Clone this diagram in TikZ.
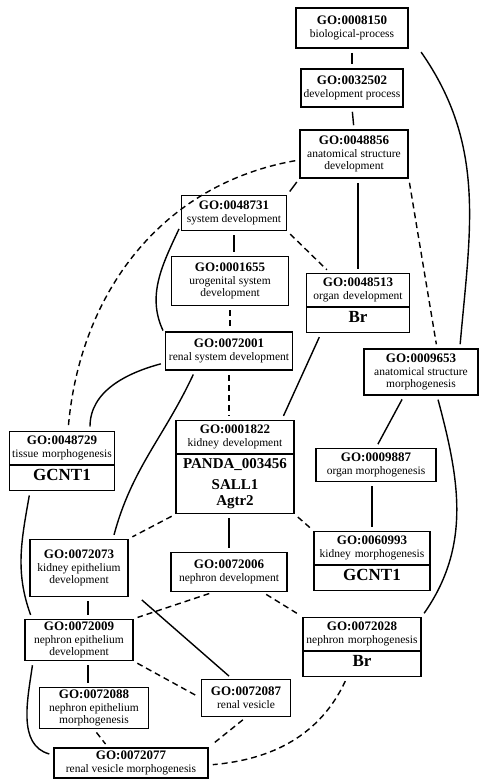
\documentclass[tikz,border=0pt]{standalone}
\usepackage{fontspec}
\setmainfont{Liberation Serif}
\usepackage{tikz}
\usetikzlibrary{shapes}
\usetikzlibrary{calc}

\newcommand{\goid}[1]{{\fontsize{13}{13}\selectfont\bfseries #1}}
\newcommand{\gene}[1]{{\fontsize{17}{18}\selectfont\bfseries\rule[-5pt]{0pt}{15pt}#1}}

\begin{document}
\begin{tikzpicture}[x=1pt,y=1pt,
  go/.style={draw,line width=1.6pt,align=center,inner sep=2pt,
    font=\fontsize{11.5}{12.8}\selectfont},
  gosplit/.style={go,inner ysep=4pt,rectangle split,rectangle split parts=2},
  link/.style={line width=1.4pt,shorten <=4pt,shorten >=4pt},
  dlink/.style={link,dash pattern=on 6pt off 4pt}]
  \useasboundingbox (0,0) rectangle (480,-781);

  % GO terms
  \node[go,minimum width=112,minimum height=40] (n8150) at (352,-28) {\goid{GO:0008150}\\biological-process};
  \node[go,minimum width=102,minimum height=38] (n32502) at (352,-88) {\goid{GO:0032502}\\development process};
  \node[go,minimum width=108,minimum height=48] (n48856) at (354,-154) {\goid{GO:0048856}\\anatomical structure\\development};
  \node[go,minimum width=105,minimum height=35] (n48731) at (234,-213) {\goid{GO:0048731}\\system development};
  \node[go,minimum width=117,minimum height=49] (n1655) at (230,-281) {\goid{GO:0001655}\\urogenital system\\development};
  \node[gosplit,text width=99] (n48513) at (358,-303) {\goid{GO:0048513}\\organ development\nodepart{two}\gene{Br}};
  \node[go,minimum width=127,minimum height=38] (n72001) at (229,-351) {\goid{GO:0072001}\\renal system development};
  \node[go,minimum width=114,minimum height=46] (n9653) at (421,-372) {\goid{GO:0009653}\\anatomical structure\\morphogenesis};
  \node[gosplit,text width=101] (n48729) at (62,-461) {\goid{GO:0048729}\\tissue morphogenesis\nodepart{two}\gene{GCNT1}};
  \node[gosplit,text width=114] (n1822) at (235,-467) {\goid{GO:0001822}\\kidney development\nodepart{two}\fontsize{15}{18}\selectfont\bfseries PANDA\_003456\\[3pt]SALL1\\[3pt]Agtr2};
  \node[go,minimum width=120,minimum height=33] (n9887) at (376,-465) {\goid{GO:0009887}\\organ morphogenesis};
  \node[gosplit,text width=112] (n60993) at (372,-561) {\goid{GO:0060993}\\kidney morphogenesis\nodepart{two}\gene{GCNT1}};
  \node[go,minimum width=98,minimum height=57] (n72073) at (79,-568) {\goid{GO:0072073}\\kidney epithelium\\development};
  \node[go,minimum width=116,minimum height=39] (n72006) at (229,-572) {\goid{GO:0072006}\\nephron development};
  \node[gosplit,text width=114] (n72028) at (362,-647) {\goid{GO:0072028}\\nephron morphogenesis\nodepart{two}\gene{Br}};
  \node[go,minimum width=108,minimum height=41] (n72009) at (79,-640) {\goid{GO:0072009}\\nephron epithelium\\development};
  \node[go,minimum width=109,minimum height=41] (n72088) at (94,-708) {\goid{GO:0072088}\\nephron epithelium\\morphogenesis};
  \node[go,minimum width=89,minimum height=37] (n72087) at (246,-698) {\goid{GO:0072087}\\renal vesicle};
  \node[go,minimum width=154,minimum height=30] (n72077) at (131,-763) {\goid{GO:0072077}\\renal vesicle morphogenesis};

  % is_a links
  \draw[link] (n8150.south) -- (n32502.north);
  \draw[link] (n32502.south) -- (n48856.north);
  \draw[link] (n48856.south west) -- (n48731.north east);
  \draw[link] (n48513.north |- n48856.south) -- (n48513.north);
  \draw[link] (n48731.south |- n48731.south) -- (n48731.south |- n1655.north);
  \draw[link] ([xshift=-37pt]n48513.south) -- ([xshift=-13pt]n1822.north east);
  \draw[link] ([xshift=-17pt]n9653.south) -- (n9887.north);
  \draw[link] (n60993.north |- n9887.south) -- (n60993.north);
  \draw[link] (n1822.south -| n72006.north) -- (n72006.north);
  \draw[link] ([xshift=9pt]n72009.north |- n72073.south) -- ([xshift=9pt]n72009.north);
  \draw[link] ([xshift=10pt]n72073.south east) -- ([xshift=-14pt]n72087.north);
  \draw[link] ([xshift=-6pt]n72088.north |- n72009.south) -- ([xshift=-6pt]n72088.north);

  % curved links
  \draw[link] ([xshift=10pt]n8150.south east) to[out=-55,in=85] ([xshift=-19pt]n9653.north east);
  \draw[link] ([yshift=6pt]n48731.south west) to[out=245,in=115] ([yshift=-3pt]n72001.north west);
  \draw[link] ([yshift=8pt]n72001.south west) to[out=195,in=90] ([xshift=28pt]n48729.north);
  \draw[link] ([xshift=-34pt]n72001.south) to[out=-115,in=75] ([xshift=34pt]n72073.north);
  \draw[link] ([xshift=-32pt]n48729.south) to[out=-100,in=110] ([xshift=-47pt]n72009.north);
  \draw[link] ([xshift=16pt]n9653.south) to[out=-75,in=55] (n72028.north east);
  \draw[link] ([xshift=-46pt]n72009.south) to[out=-98,in=165] ([yshift=8pt]n72077.west);

  % part_of links
  \draw[dlink] (n48856.south east) -- ([xshift=16pt]n9653.north);
  \draw[dlink] (n48731.south east) -- ([xshift=24pt]n48513.north west);
  \draw[dlink] (n1655.south |- n1655.south) -- (n1655.south |- n72001.north);
  \draw[dlink] (n72001.south) -- (n72001.south |- n1822.north);
  \draw[dlink] (n1822.south east) -- (n60993.north west);
  \draw[dlink] (n1822.south west) -- (n72073.north east);
  \draw[dlink] ([xshift=-16pt]n72006.south) -- (n72009.north east);
  \draw[dlink] ([xshift=-25pt]n72006.south east) -- (n72028.north west);
  \draw[dlink] (n72009.south east) -- (n72087.west);
  \draw[dlink] (n72088.south) -- ([xshift=-23pt]n72077.north);
  \draw[dlink] (n72087.south) -- (n72077.north east);
  \draw[dlink] ([yshift=-6pt]n48856.west) to[out=190,in=85] ([xshift=6pt]n48729.north);
  \draw[dlink] ([xshift=-15pt]n72028.south) to[out=-115,in=5] ([yshift=-2pt]n72077.east);
\end{tikzpicture}
\end{document}
